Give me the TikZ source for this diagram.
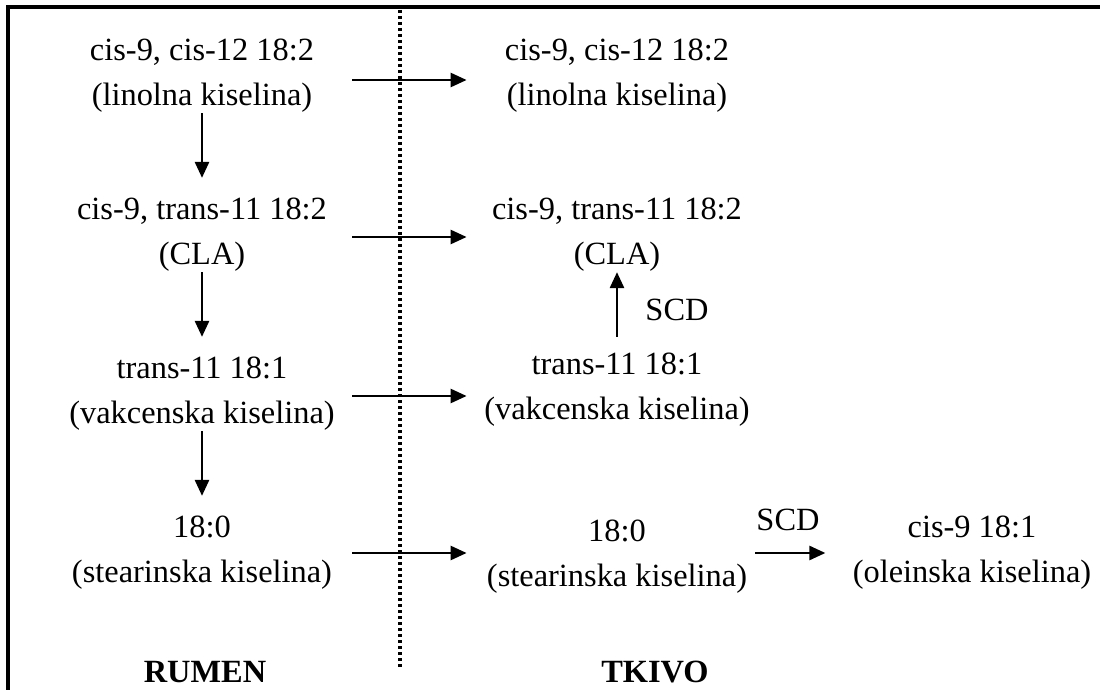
\documentclass[tikz,border=0pt]{standalone}
\usepackage{fontspec}
\setmainfont{Liberation Serif}
\usetikzlibrary{arrows.meta,positioning}
\tikzset{
  fa/.style = {align=center, inner sep=0pt, minimum width=150pt, font=\fontsize{16.2}{22.5}\selectfont},
  lbl/.style = {inner sep=0pt, font=\fontsize{16.2}{19}\selectfont},
  side/.style = {inner sep=0pt, font=\fontsize{16.2}{19}\selectfont\bfseries},
  arrow/.style = {line width=1.3pt, ->, >={Triangle[length=8pt, width=7pt]}},
  frame/.style = {line width=1.6pt},
  divide/.style = {line width=1.7pt, dash pattern=on 1.5pt off 1.5pt}
}
\begin{document}
\begin{tikzpicture}[x=0.5pt, y=-0.5pt, node distance=79.5pt and 207.5pt, on grid]
            \useasboundingbox (0,0) rectangle (1100,690);
            \draw[frame] (8,690) -- (8,7) -- (1100,7);
            \draw[divide] (400,10) -- (400,668);
            % rumen
            \node[fa] (ru1) at (202,76) {cis-9, cis-12 18:2\\(linolna kiselina)};
            \node[fa, below=of ru1] (ru2) {cis-9, trans-11 18:2\\(CLA)};
            \node[fa, below=of ru2] (ru3) {trans-11 18:1\\(vakcenska kiselina)};
            \node[fa, below=of ru3] (ru4) {18:0\\(stearinska kiselina)};
            % tkivo
            \node[fa, right=of ru1] (tk1) {cis-9, cis-12 18:2\\(linolna kiselina)};
            \node[fa, right=of ru2] (tk2) {cis-9, trans-11 18:2\\(CLA)};
            \node[fa, right=of ru3, yshift=2pt] (tk3) {trans-11 18:1\\(vakcenska kiselina)};
            \node[fa, right=of ru4, yshift=-2pt] (tk4) {18:0\\(stearinska kiselina)};
            \node[fa, minimum width=0pt, right=177.5pt of tk4, yshift=2pt] (ol) {cis-9 18:1\\(oleinska kiselina)};
            \node[lbl] (scd1) at (677,310) {SCD};
            \node[lbl] (scd2) at (788,520) {SCD};
            \node[side] (rumen) at (205,672) {RUMEN};
            \node[side] (tkivo) at (655,672) {TKIVO};
            \draw[arrow, shorten >=10pt] (ru1) -- (ru2);
            \draw[arrow, shorten >=10pt] (ru2) -- (ru3);
            \draw[arrow, shorten >=10pt] (ru3) -- (ru4);
            \draw[arrow] ([yshift=-2pt]ru1.east) -- ([yshift=-2pt]tk1.west);
            \draw[arrow] ([yshift=-1pt]ru2.east) -- ([yshift=-1pt]tk2.west);
            \draw[arrow] ([yshift=-1pt]ru3.east) -- ([yshift=-1pt]ru3.east -| tk3.west);
            \draw[arrow] (ru4) -- (ru4 -| tk4.west);
            \draw[arrow, shorten <=8pt] (tk3) -- (tk2);
            \draw[arrow, shorten <=-6pt, shorten >=13.5pt] (tk4.east |- ol) -- (ol);
        \end{tikzpicture}
\end{document}
